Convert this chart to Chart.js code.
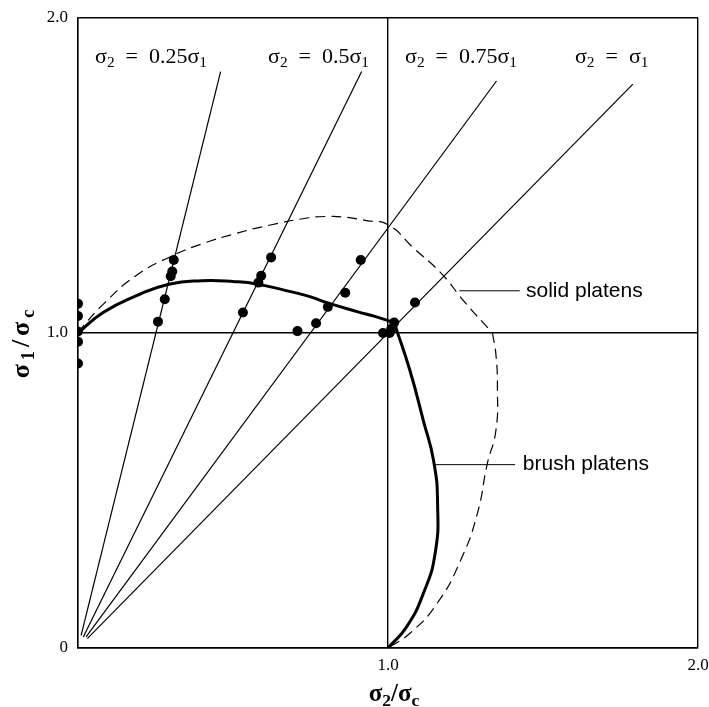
<!DOCTYPE html>
<html>
<head>
<meta charset="utf-8">
<script src="https://cdn.jsdelivr.net/npm/chart.js@4/dist/chart.umd.min.js"></script>
<style>
  body { margin: 0; background: #fff; }
</style>
</head>
<body>
<canvas id="chart" width="709" height="707"></canvas>
<script>
// rays sigma2 = k * sigma1 (start and end)
const ray025 = [{x: 0.01, y: 0.04}, {x: 0.46, y: 1.83}];
const ray050 = [{x: 0.017, y: 0.035}, {x: 0.915, y: 1.83}];
const ray075 = [{x: 0.026, y: 0.035}, {x: 1.35, y: 1.80}];
const ray100 = [{x: 0.03, y: 0.03}, {x: 1.79, y: 1.79}];

// brush platens envelope (thick), two branches meeting at the corner
const brushUpper = [
  {x: 0, y: 1.0}, {x: 0.081, y: 1.065}, {x: 0.187, y: 1.118}, {x: 0.293, y: 1.155},
  {x: 0.399, y: 1.166}, {x: 0.506, y: 1.163}, {x: 0.58, y: 1.155}, {x: 0.665, y: 1.136},
  {x: 0.74, y: 1.118}, {x: 0.80, y: 1.097}, {x: 0.90, y: 1.068}, {x: 0.96, y: 1.052},
  {x: 1.02, y: 1.033}
];
const brushLower = [
  {x: 1.02, y: 1.033}, {x: 1.071, y: 0.88}, {x: 1.114, y: 0.722}, {x: 1.147, y: 0.595},
  {x: 1.16, y: 0.458}, {x: 1.152, y: 0.30}, {x: 1.114, y: 0.173}, {x: 1.06, y: 0.067},
  {x: 1.0, y: 0}
];

// solid platens envelope (dashed)
const solidUpper = [
  {x: 0, y: 1.0}, {x: 0.017, y: 1.022}, {x: 0.081, y: 1.091}, {x: 0.187, y: 1.182},
  {x: 0.304, y: 1.245}, {x: 0.40, y: 1.283}, {x: 0.506, y: 1.315}, {x: 0.612, y: 1.341},
  {x: 0.74, y: 1.365}, {x: 0.81, y: 1.37}, {x: 0.867, y: 1.367}, {x: 0.93, y: 1.357},
  {x: 1.0, y: 1.344}, {x: 1.08, y: 1.272}, {x: 1.174, y: 1.187}, {x: 1.244, y: 1.102},
  {x: 1.337, y: 1.0}
];
const solidLower = [
  {x: 1.337, y: 1.0}, {x: 1.348, y: 0.933}, {x: 1.353, y: 0.827}, {x: 1.348, y: 0.69},
  {x: 1.32, y: 0.584}, {x: 1.288, y: 0.426}, {x: 1.234, y: 0.278}, {x: 1.158, y: 0.141},
  {x: 1.07, y: 0.046}, {x: 1.0, y: 0}
];

// test results
const tests = [
  {x: 0, y: 1.093}, {x: 0, y: 1.054}, {x: 0, y: 1.005}, {x: 0, y: 0.972}, {x: 0, y: 0.903},
  {x: 0.309, y: 1.232}, {x: 0.304, y: 1.195}, {x: 0.299, y: 1.18}, {x: 0.28, y: 1.107}, {x: 0.258, y: 1.036},
  {x: 0.623, y: 1.24}, {x: 0.591, y: 1.182}, {x: 0.582, y: 1.16}, {x: 0.532, y: 1.065},
  {x: 0.912, y: 1.232}, {x: 0.806, y: 1.083}, {x: 0.768, y: 1.031},
  {x: 0.862, y: 1.128}, {x: 0.708, y: 1.006},
  {x: 1.087, y: 1.097}, {x: 1.02, y: 1.033}, {x: 1.01, y: 1.012}, {x: 0.984, y: 1.0}, {x: 1.005, y: 1.0}
];

// leader lines for the curve names
const solidLeader = [{x: 1.23, y: 1.134}, {x: 1.425, y: 1.134}];
const brushLeader = [{x: 1.15, y: 0.582}, {x: 1.41, y: 0.582}];

const xTickLabels = ['', '1.0', '2.0'];
const yTickLabels = ['0', '1.0', '2.0'];

const SERIF = '"Liberation Serif", "DejaVu Serif", serif';
const SANS = '"Liberation Sans", Arial, sans-serif';

// draws text with subscripts, parts = [[text, isSub], ...]
function drawRich(ctx, parts, x, y, size, family, align, weight, gap) {
  weight = weight || '';
  gap = gap || 0;
  const fontFor = sub => weight + ' ' + (sub ? size * 0.7 : size) + 'px ' + family;
  let w = 0;
  parts.forEach(([t, sub], i) => {
    ctx.font = fontFor(sub);
    w += ctx.measureText(t).width + (i < parts.length - 1 ? gap : 0);
  });
  let cx = align === 'center' ? x - w / 2 : x;
  parts.forEach(([t, sub]) => {
    ctx.font = fontFor(sub);
    ctx.fillText(t, cx, sub ? y + size * 0.27 : y);
    cx += ctx.measureText(t).width + gap;
  });
}

const textPlugin = {
  id: 'texts',
  afterDraw(chart) {
    const {ctx, scales: {x, y}} = chart;
    ctx.save();
    ctx.fillStyle = '#000';
    ctx.textBaseline = 'middle';
    ctx.textAlign = 'left';

    const sp = '\u2002';
    const ly = y.getPixelForValue(1.877);
    drawRich(ctx, [['σ', 0], ['2', 1], [sp + '=' + sp + '0.25σ', 0], ['1', 1]], x.getPixelForValue(0.055), ly, 22, SERIF);
    drawRich(ctx, [['σ', 0], ['2', 1], [sp + '=' + sp + '0.5σ', 0], ['1', 1]], x.getPixelForValue(0.613), ly, 22, SERIF);
    drawRich(ctx, [['σ', 0], ['2', 1], [sp + '=' + sp + '0.75σ', 0], ['1', 1]], x.getPixelForValue(1.055), ly, 22, SERIF);
    drawRich(ctx, [['σ', 0], ['2', 1], [sp + '=' + sp + 'σ', 0], ['1', 1]], x.getPixelForValue(1.603), ly, 22, SERIF);

    ctx.font = '21px ' + SANS;
    ctx.fillText('solid platens', x.getPixelForValue(1.445), y.getPixelForValue(1.134));
    ctx.fillText('brush platens', x.getPixelForValue(1.435), y.getPixelForValue(0.582));

    // axis titles
    drawRich(ctx, [['σ', 0], ['2', 1], ['/σ', 0], ['c', 1]], 394, 695, 25, SERIF, 'center', 'bold');
    ctx.translate(22, 344);
    ctx.rotate(-Math.PI / 2);
    drawRich(ctx, [['σ', 0], ['1', 1], ['/', 0], ['σ', 0], ['c', 1]], 0, 0, 26, SERIF, 'center', 'bold', 4);
    ctx.restore();
  }
};

function line(data, width, dash, tension) {
  return {
    data: data,
    borderColor: '#000',
    borderWidth: width,
    borderDash: dash || [],
    pointRadius: 0,
    tension: tension || 0,
    fill: false,
    order: 2
  };
}

const axisCommon = {
  type: 'linear',
  min: 0,
  max: 2,
  afterBuildTicks: s => { s.ticks = [0, 1, 2].map(v => ({value: v})); },
  grid: {color: '#000', lineWidth: 1.4, drawTicks: false},
  border: {color: '#000', width: 1.4}
};

new Chart(document.getElementById('chart'), {
  type: 'line',
  data: {
    datasets: [
      {
        data: tests,
        pointRadius: 5,
        pointBackgroundColor: '#000',
        pointBorderColor: '#000',
        pointBorderWidth: 0,
        showLine: false,
        order: 0
      },
      line(ray025, 1.2), line(ray050, 1.2), line(ray075, 1.2), line(ray100, 1.2),
      line(brushUpper, 3, null, 0.5), line(brushLower, 3, null, 0.5),
      line(solidUpper, 1.2, [10, 6], 0.5), line(solidLower, 1.2, [10, 6], 0.5),
      line(solidLeader, 1), line(brushLeader, 1)
    ]
  },
  options: {
    responsive: false,
    animation: false,
    layout: {padding: {top: 18, right: 11, left: 0, bottom: 0}},
    plugins: {legend: {display: false}, tooltip: {enabled: false}},
    scales: {
      x: Object.assign({}, axisCommon, {
        ticks: {
          callback: v => xTickLabels[v], color: '#000', padding: 7, maxRotation: 0,
          font: {family: SERIF, size: 17}
        },
        afterFit: s => { s.height = 59; s.paddingLeft = 0; s.paddingRight = 0; }
      }),
      y: Object.assign({}, axisCommon, {
        ticks: {
          callback: v => yTickLabels[v], color: '#000', padding: 10,
          font: {family: SERIF, size: 17}
        },
        afterFit: s => { s.width = 78; s.paddingTop = 0; s.paddingBottom = 0; }
      })
    }
  },
  plugins: [textPlugin]
});
</script>
</body>
</html>
